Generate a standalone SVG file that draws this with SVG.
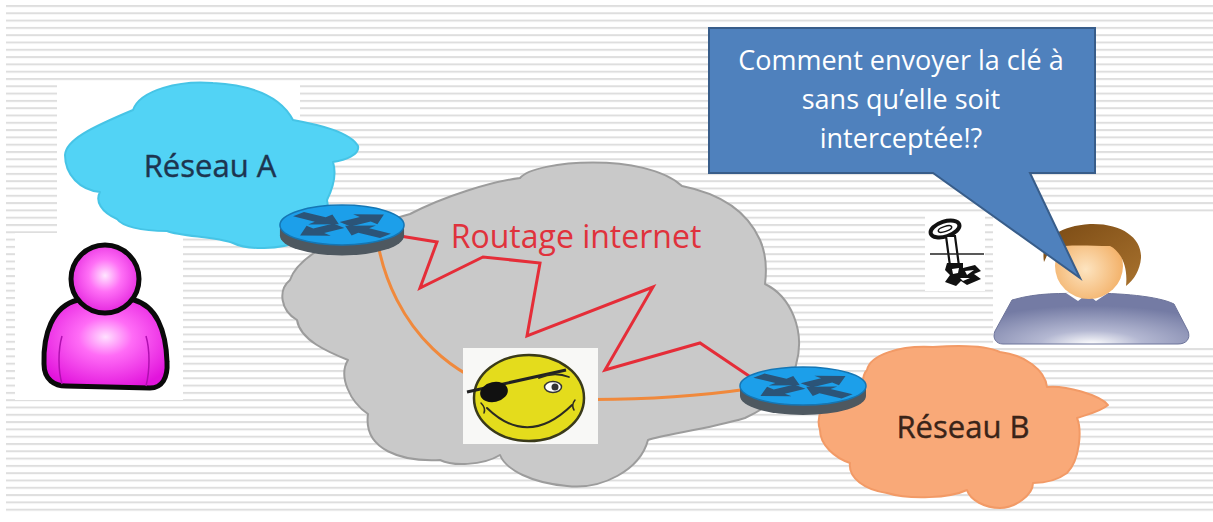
<svg xmlns="http://www.w3.org/2000/svg" xmlns:xlink="http://www.w3.org/1999/xlink" width="1213" height="522" viewBox="0 0 1213 522">
  <defs>
    <style>
      .lbl { font-family: "Open Sans", "Noto Sans", "Liberation Sans", sans-serif; }
      .net-label { font-size: 31px; text-anchor: middle; }
      .bubble-text { font-size: 27px; fill: #ffffff; text-anchor: middle; }
      .cloud-edge { stroke-width: 2; stroke-linejoin: round; }
      .link { fill: none; stroke-width: 3; stroke-linejoin: miter; }
      .ink { fill: none; stroke: #2b2b22; stroke-linecap: round; }
    </style>
    <pattern id="stripes" x="0" y="5" width="10" height="7.3" patternUnits="userSpaceOnUse">
      <rect x="0" y="0" width="10" height="2" fill="#dedede"/>
    </pattern>
    <radialGradient id="magenta" cx="0.5" cy="0.42" r="0.62">
      <stop offset="0" stop-color="#ffe0ff"/>
      <stop offset="0.35" stop-color="#ff6cf6"/>
      <stop offset="1" stop-color="#e214dc"/>
    </radialGradient>
    <radialGradient id="magentaHead" cx="0.5" cy="0.45" r="0.6">
      <stop offset="0" stop-color="#ffe6ff"/>
      <stop offset="0.4" stop-color="#ff70f6"/>
      <stop offset="1" stop-color="#e01ada"/>
    </radialGradient>
    <radialGradient id="shirt" cx="0.5" cy="1" r="0.75">
      <stop offset="0" stop-color="#ffffff"/>
      <stop offset="0.35" stop-color="#b4b8d2"/>
      <stop offset="1" stop-color="#747ba4"/>
    </radialGradient>
    <radialGradient id="skin" cx="0.45" cy="0.55" r="0.6">
      <stop offset="0" stop-color="#fde4c0"/>
      <stop offset="1" stop-color="#f2ad62"/>
    </radialGradient>
    <linearGradient id="hair" x1="0" y1="0" x2="1" y2="1">
      <stop offset="0" stop-color="#7a4a14"/>
      <stop offset="1" stop-color="#a8722e"/>
    </linearGradient>
    <!-- router puck: blue top, dark rim, crossed arrows -->
    <g id="router">
      <ellipse cx="0" cy="10" rx="63" ry="19" fill="#4e5860"/>
      <rect x="-63" y="0" width="126" height="10" fill="#4e5860"/>
      <ellipse cx="0" cy="0" rx="63" ry="19" fill="#1c9fea" stroke="#1576b4" stroke-width="1.5"/>
      <g transform="scale(1,0.3)" fill="#2b5478">
        <polygon transform="rotate(-38)" points="4,-9 30,-9 30,-20 54,0 30,20 30,9 4,9"/>
        <polygon transform="rotate(142)" points="4,-9 30,-9 30,-20 54,0 30,20 30,9 4,9"/>
        <polygon transform="rotate(-142)" points="56,-9 28,-9 28,-20 4,0 28,20 28,9 56,9"/>
        <polygon transform="rotate(38)" points="56,-9 28,-9 28,-20 4,0 28,20 28,9 56,9"/>
      </g>
    </g>
  </defs>

  <!-- page background with ruled stripes -->
  <rect width="1213" height="522" fill="#ffffff"/>
  <rect x="6" y="5" width="1207" height="511" fill="url(#stripes)"/>

  <!-- plain white backings behind pictures -->
  <rect x="57" y="83" width="243" height="154" fill="#ffffff"/>
  <rect x="15" y="233" width="168" height="167" fill="#ffffff"/>
  <rect x="993" y="212" width="220" height="136" fill="#ffffff"/>
  <rect x="925" y="213" width="60" height="78" fill="#ffffff"/>

  <!-- Réseau A -->
  <g id="node-reseau-a">
    <path class="cloud-edge" fill="#52d3f5" stroke="#46c4e6"
      d="M 133 110 C 140 90 180 80 213 83 C 250 85 280 95 293 120 C 320 125 350 132 358 146 C 360 155 345 160 333 162 C 337 175 332 190 327 200 C 330 215 323 236 300 241 C 280 250 247 250 233 243 C 215 236 182 237 167 231 C 140 231 122 226 117 219 C 101 212 95 201 100 192 C 80 190 65 175 65 155 C 66 140 90 128 133 110 Z"/>
    <text class="lbl net-label" x="210" y="177" fill="#1d3550" stroke="#1d3550" stroke-width="0.4">Réseau A</text>
  </g>

  <!-- Internet cloud -->
  <g id="node-internet">
    <path class="cloud-edge" fill="#c9c9c9" stroke="#9c9c9c"
      d="M 290 280 C 300 250 360 228 410 214 C 445 196 490 182 520 178 C 535 160 645 152 682 186 C 712 192 745 206 760 240 C 768 258 766 276 765 284 C 790 296 806 330 796 365 C 790 395 762 410 745 418 C 705 430 664 434 648 440 C 640 470 602 490 567 486 C 532 483 506 470 500 455 C 482 466 452 466 440 460 C 402 462 363 450 368 414 C 350 402 338 376 348 360 C 328 352 300 340 297 320 C 280 310 278 290 290 280 Z"/>
    <text class="lbl" x="576" y="248" font-size="32" fill="#e0323c" text-anchor="middle">Routage internet</text>
  </g>

  <!-- Réseau B -->
  <g id="node-reseau-b">
    <path class="cloud-edge" fill="#f9a978" stroke="#f29a66"
      d="M 867 370 C 870 355 900 345 933 347 C 960 345 985 345 1000 352 C 1025 355 1045 370 1047 387 C 1065 385 1100 395 1108 405 C 1100 412 1085 415 1077 418 C 1082 430 1080 460 1067 473 C 1055 482 1040 483 1033 483 C 1033 495 1015 508 1000 508 C 985 508 970 500 967 490 C 950 498 910 500 887 493 C 865 490 848 478 850 463 C 835 458 820 445 820 430 C 815 415 825 400 835 397 C 845 392 860 392 863 390 C 862 380 864 373 867 370 Z"/>
    <text class="lbl net-label" x="963" y="438" fill="#3a2418" stroke="#3a2418" stroke-width="0.4">Réseau B</text>
  </g>

  <!-- links between the two routers -->
  <g id="connectors">
    <path class="link" stroke="#f0893c"
      d="M 378 244 C 392 320 450 396 560 399 C 640 401 700 396 748 389"/>
    <polyline class="link" stroke="#e52d38"
      points="400,236 437,242 420,288 483,257 540,263 527,336 653,287 605,370 700,343 752,378"/>
  </g>

  <!-- routers -->
  <g id="node-router-a">
    <use xlink:href="#router" href="#router" transform="translate(342,225) scale(0.985,1.05)"/>
  </g>
  <g id="node-router-b">
    <use xlink:href="#router" href="#router" transform="translate(803,386)"/>
  </g>

  <!-- eavesdropper -->
  <g id="node-pirate">
    <rect x="463" y="348" width="135" height="96" fill="#f8f8f6"/>
    <ellipse cx="529" cy="398" rx="55" ry="43" fill="#e4dc1c" stroke="#3a3a1a" stroke-width="2.5"/>
    <path d="M 467 392 L 566 370" stroke="#222" stroke-width="3" fill="none"/>
    <ellipse cx="494" cy="392" rx="14" ry="10" fill="#111" transform="rotate(-12 494 392)"/>
    <ellipse cx="553" cy="387" rx="8.5" ry="5.5" fill="#ffffff" stroke="#333" stroke-width="1.5"/>
    <circle cx="555" cy="387" r="3.5" fill="#333"/>
    <path class="ink" stroke-width="1.8" d="M 539 378 Q 554 371 569 377"/>
    <path class="ink" stroke-width="2" d="M 487 408 Q 528 448 572 405"/>
    <path class="ink" stroke-width="1.5" d="M 481 403 Q 486 408 484 413"/>
    <path class="ink" stroke-width="1.5" d="M 575 400 Q 571 405 574 410"/>
  </g>

  <!-- sender -->
  <g id="node-sender">
    <path fill="url(#magenta)" stroke="#0a0a0a" stroke-width="5" stroke-linejoin="round"
      d="M 78 300 C 52 306 43 335 44 364 C 44 380 55 386 66 386 L 150 388 C 162 388 168 378 167 362 C 166 330 156 306 134 300 Z"/>
    <path d="M 62 336 C 58 350 58 370 62 384" fill="none" stroke="#b010b0" stroke-width="1.5"/>
    <path d="M 146 336 C 150 350 150 370 146 386" fill="none" stroke="#b010b0" stroke-width="1.5"/>
    <circle cx="105" cy="279" r="34" fill="url(#magentaHead)" stroke="#0a0a0a" stroke-width="5"/>
  </g>

  <!-- key -->
  <g id="node-key">
    <ellipse cx="945" cy="229" rx="15" ry="7.5" transform="rotate(-18 945 229)" fill="#ffffff" stroke="#111" stroke-width="4"/>
    <ellipse cx="945" cy="229" rx="7" ry="2.5" transform="rotate(-18 945 229)" fill="none" stroke="#111" stroke-width="1.5"/>
    <polygon points="946,236 955,236 959,266 950,266" fill="#ffffff" stroke="#111" stroke-width="2.2"/>
    <path d="M 930 254 L 984 254" stroke="#222" stroke-width="1.5"/>
    <path fill="#111" d="M 947 263 L 963 263 L 963 268 L 975 265 L 981 271 L 974 274 L 981 279 L 967 285 L 961 281 L 956 286 L 945 282 L 950 275 L 945 270 Z"/>
    <path fill="#ffffff" d="M 952 269 L 959 268 L 958 273 L 953 274 Z M 965 271 L 974 270 L 967 275 Z M 960 278 L 970 278 L 963 281 Z"/>
  </g>

  <!-- receiver -->
  <g id="node-receiver">
    <path fill="url(#shirt)" stroke="#6d749a" stroke-width="1"
      d="M 1012 300 C 1040 292 1060 294 1085 293 C 1120 293 1158 296 1174 304 L 1188 331 C 1191 339 1186 344 1178 344 L 1003 344 C 996 344 992 338 995 331 Z"/>
    <path fill="#ffffff" d="M 1066 293 L 1078 301 L 1087 294 L 1096 301 L 1108 293 Z"/>
    <ellipse cx="1089" cy="266" rx="34" ry="33" fill="url(#skin)"/>
    <path fill="url(#hair)"
      d="M 1044 262 C 1040 240 1058 226 1090 224 C 1122 223 1142 238 1141 258 C 1140 270 1134 280 1126 286 C 1128 268 1122 252 1110 246 C 1090 246 1068 244 1052 248 C 1048 252 1046 258 1044 262 Z"/>
  </g>

  <!-- speech bubble -->
  <g id="node-bubble">
    <path fill="#4f81bd" stroke="#385d8a" stroke-width="2" stroke-linejoin="miter"
      d="M 709 28 L 1095 28 L 1095 173 L 1030 173 L 1080 278 L 933 173 L 709 173 Z"/>
    <text class="lbl bubble-text" x="901" y="70">Comment envoyer la clé à</text>
    <text class="lbl bubble-text" x="901" y="109">sans qu’elle soit</text>
    <text class="lbl bubble-text" x="901" y="148">interceptée!?</text>
  </g>
</svg>
